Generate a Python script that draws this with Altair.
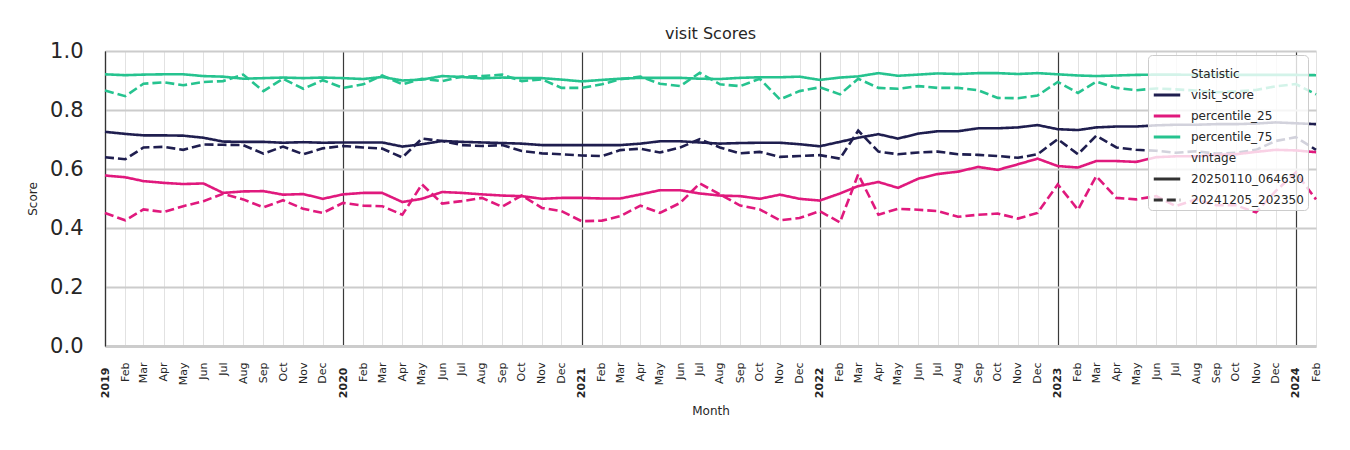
import altair as alt
import pandas as pd

months = pd.date_range("2019-01-01", "2024-02-01", freq="MS").strftime("%Y-%m-%d").tolist()

statistics = ["visit_score", "percentile_25", "percentile_75"]
vintages = ["20250110_064630", "20241205_202350"]
colors = ["#1f1e4f", "#e0197d", "#26c38f"]
legend_keys = ["Statistic"] + statistics + ["vintage"] + vintages

visit_new = [0.726, 0.719, 0.714, 0.714, 0.713, 0.706, 0.693, 0.692, 0.692, 0.689, 0.691, 0.689,
             0.690, 0.690, 0.690, 0.676, 0.684, 0.695, 0.692, 0.690, 0.688, 0.686, 0.681, 0.681,
             0.681, 0.681, 0.681, 0.686, 0.694, 0.694, 0.690, 0.686, 0.688, 0.689, 0.689, 0.684,
             0.677, 0.692, 0.706, 0.718, 0.703, 0.720, 0.728, 0.728, 0.738, 0.738, 0.741, 0.749,
             0.735, 0.732, 0.741, 0.744, 0.744, 0.748, 0.750, 0.750, 0.752, 0.752, 0.754, 0.758,
             0.755, 0.752]
visit_old = [0.640, 0.633, 0.673, 0.675, 0.665, 0.683, 0.682, 0.681, 0.652, 0.676, 0.650, 0.670,
             0.678, 0.673, 0.669, 0.639, 0.703, 0.695, 0.681, 0.678, 0.681, 0.661, 0.653, 0.650,
             0.646, 0.644, 0.664, 0.669, 0.656, 0.673, 0.701, 0.673, 0.653, 0.658, 0.641, 0.644,
             0.647, 0.635, 0.730, 0.659, 0.650, 0.656, 0.659, 0.650, 0.648, 0.644, 0.638, 0.650,
             0.701, 0.650, 0.713, 0.673, 0.665, 0.662, 0.655, 0.660, 0.652, 0.655, 0.665, 0.695,
             0.708, 0.665]
p25_new = [0.578, 0.572, 0.559, 0.553, 0.549, 0.551, 0.519, 0.524, 0.525, 0.513, 0.515, 0.499,
           0.514, 0.519, 0.519, 0.488, 0.499, 0.522, 0.519, 0.514, 0.510, 0.508, 0.499, 0.502,
           0.502, 0.500, 0.500, 0.514, 0.528, 0.528, 0.517, 0.510, 0.508, 0.499, 0.513, 0.499,
           0.493, 0.517, 0.542, 0.556, 0.536, 0.567, 0.583, 0.591, 0.607, 0.597, 0.616, 0.635,
           0.610, 0.605, 0.627, 0.627, 0.624, 0.640, 0.643, 0.643, 0.648, 0.650, 0.658, 0.665,
           0.663, 0.657]
p25_old = [0.451, 0.426, 0.463, 0.454, 0.474, 0.491, 0.516, 0.497, 0.470, 0.494, 0.465, 0.451,
           0.485, 0.476, 0.474, 0.445, 0.548, 0.483, 0.491, 0.502, 0.472, 0.510, 0.468, 0.457,
           0.423, 0.425, 0.440, 0.476, 0.451, 0.485, 0.551, 0.514, 0.476, 0.463, 0.426, 0.434,
           0.457, 0.419, 0.582, 0.445, 0.465, 0.462, 0.457, 0.438, 0.445, 0.449, 0.432, 0.451,
           0.548, 0.462, 0.576, 0.502, 0.497, 0.508, 0.474, 0.497, 0.477, 0.477, 0.453, 0.525,
           0.588, 0.497]
p75_new = [0.921, 0.918, 0.920, 0.921, 0.921, 0.915, 0.913, 0.906, 0.908, 0.910, 0.908, 0.910,
           0.908, 0.905, 0.912, 0.900, 0.903, 0.915, 0.912, 0.907, 0.910, 0.908, 0.908, 0.903,
           0.897, 0.902, 0.906, 0.909, 0.909, 0.909, 0.906, 0.905, 0.909, 0.911, 0.911, 0.913,
           0.902, 0.910, 0.914, 0.925, 0.916, 0.920, 0.924, 0.922, 0.925, 0.925, 0.922, 0.925,
           0.921, 0.917, 0.915, 0.917, 0.919, 0.920, 0.920, 0.919, 0.919, 0.919, 0.919, 0.919,
           0.919, 0.918]
p75_old = [0.866, 0.847, 0.889, 0.894, 0.884, 0.895, 0.898, 0.920, 0.864, 0.906, 0.872, 0.901,
           0.875, 0.887, 0.917, 0.887, 0.906, 0.898, 0.913, 0.915, 0.920, 0.898, 0.904, 0.875,
           0.875, 0.887, 0.904, 0.913, 0.889, 0.881, 0.926, 0.887, 0.881, 0.906, 0.836, 0.864,
           0.877, 0.853, 0.906, 0.875, 0.872, 0.881, 0.875, 0.875, 0.867, 0.841, 0.840, 0.849,
           0.895, 0.858, 0.896, 0.875, 0.867, 0.873, 0.870, 0.866, 0.860, 0.863, 0.868, 0.880,
           0.888, 0.853]

series = {
    ("visit_score", vintages[0]): visit_new,
    ("visit_score", vintages[1]): visit_old,
    ("percentile_25", vintages[0]): p25_new,
    ("percentile_25", vintages[1]): p25_old,
    ("percentile_75", vintages[0]): p75_new,
    ("percentile_75", vintages[1]): p75_old,
}
rows = []
for (stat, vint), vals in series.items():
    for m, v in zip(months, vals):
        rows.append({"Month": m, "Score": v, "Statistic": stat, "vintage": vint})
df = pd.DataFrame(rows)

# legend-only rows (no position -> no visible mark)
legend_df = pd.DataFrame({"key": legend_keys, "Month": [None] * len(legend_keys),
                          "Score": [None] * len(legend_keys)})

FONT = "DejaVu Sans"
TXT = "#262626"
is_jan = "utcmonth(datum.value) == 0"

color_scale = alt.Scale(domain=legend_keys,
                        range=["transparent"] + colors + ["transparent", "#333333", "#333333"])
dash_scale = alt.Scale(domain=legend_keys, range=[[1, 0]] * 6 + [[9, 4]])

x_axis = alt.Axis(
    title="Month",
    titleFont=FONT, titleFontSize=12, titleFontWeight="normal", titleColor=TXT, titlePadding=8,
    tickCount={"interval": "month", "step": 1},
    labelExpr=f"{is_jan} ? utcFormat(datum.value, '%Y') : utcFormat(datum.value, '%b')",
    labelAngle=-90, labelFont=FONT, labelFontSize=11, labelColor=TXT,
    labelFontWeight={"condition": {"test": is_jan, "value": "bold"}, "value": "normal"},
    labelPadding={"condition": {"test": is_jan, "value": 21}, "value": 16},
    labelOverlap=False, labelFlush=False, labelBound=False,
    ticks=False,
    grid=True,
    gridColor={"condition": {"test": is_jan, "value": "#3a3a3a"}, "value": "#e2e2e2"},
    gridWidth={"condition": {"test": is_jan, "value": 1.2}, "value": 1},
    domainColor="#cccccc", domainWidth=3,
)

y_axis = alt.Axis(
    title="Score", titleFont=FONT, titleFontSize=12, titleFontWeight="normal", titleColor=TXT,
    titlePadding=10,
    values=[0, 0.2, 0.4, 0.6, 0.8, 1.0], format=".1f",
    labelFont=FONT, labelFontSize=21, labelColor=TXT, labelPadding=22,
    ticks=False, grid=True, gridColor="#cccccc", gridWidth=1.8,
    domainColor="#333333", domainWidth=1.2,
)

legend = alt.Legend(
    title=None, orient="none", legendX=1043, legendY=4,
    symbolType="stroke", symbolStrokeWidth=3, symbolSize=700,
    labelFont=FONT, labelFontSize=12, labelColor=TXT, labelOffset=9,
    fillColor="rgba(255,255,255,0.8)", strokeColor="#cccccc", cornerRadius=4,
    padding=4, rowPadding=0,
)

x_enc = alt.X("Month:T", scale=alt.Scale(type="utc", domain=["2019-01-01", "2024-02-01"], nice=False),
              axis=x_axis)
y_enc = alt.Y("Score:Q", scale=alt.Scale(domain=[0, 1], nice=False), axis=y_axis)

lines = alt.Chart(df).mark_line(strokeWidth=2.6).encode(
    x=x_enc, y=y_enc,
    color=alt.Color("Statistic:N", scale=color_scale, legend=legend),
    strokeDash=alt.StrokeDash("vintage:N", scale=dash_scale, legend=legend),
    detail="vintage:N",
)

legend_layer = alt.Chart(legend_df).mark_line(strokeWidth=2.6).encode(
    x="Month:T", y="Score:Q",
    color=alt.Color("key:N", scale=color_scale, legend=legend),
    strokeDash=alt.StrokeDash("key:N", scale=dash_scale, legend=legend),
)

chart = alt.layer(legend_layer, lines).properties(
    width=1211, height=295,
    title=alt.TitleParams("visit Scores", font=FONT, fontSize=16, fontWeight="normal",
                          color=TXT, anchor="middle", offset=-2),
    autosize=alt.AutoSizeParams(type="none"),
    padding={"left": 105, "top": 51, "right": 34, "bottom": 104},
).configure_view(stroke=None)

chart.save("out.html", embed_options={"renderer": "svg", "actions": False})
